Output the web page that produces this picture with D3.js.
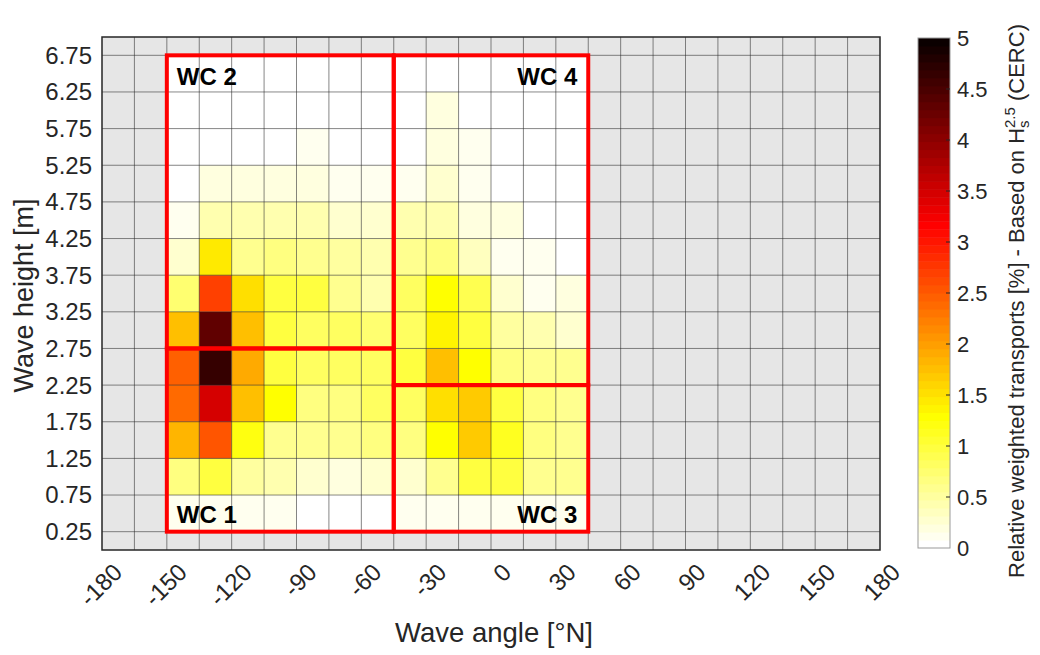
<!DOCTYPE html>
<html>
<head>
<meta charset="utf-8">
<script src="https://cdn.jsdelivr.net/npm/d3@7"></script>
<style>
  body { margin: 0; background: #fff; }
  text { font-family: "Liberation Sans", Arial, Helvetica, sans-serif; fill: #262626; }
</style>
</head>
<body>
<div id="chart"></div>
<script>

// wave angle bins (left edge, deg N) and wave height bins (lower edge, m)
var angles = [-150, -135, -120, -105, -90, -75, -60, -45, -30, -15, 0, 15, 30];
var heights = [0.25, 0.75, 1.25, 1.75, 2.25, 2.75, 3.25, 3.75, 4.25, 4.75, 5.25, 5.75, 6.25];

// relative weighted transport [%], one row per height bin (bottom -> top)
var transport = [
  [0.12, 0.12, 0.12, 0.10, 0,    0,    0,    0.12, 0.12, 0.14, 0.12, 0.10, 0.10],
  [0.70, 1.00, 0.47, 0.40, 0.25, 0.22, 0.30, 0.30, 0.55, 0.95, 0.95, 0.55, 0.55],
  [1.83, 2.54, 1.20, 0.60, 0.60, 0.60, 0.70, 0.70, 1.30, 1.67, 1.10, 0.70, 0.60],
  [2.40, 3.50, 1.72, 1.25, 0.70, 0.70, 0.80, 0.80, 1.55, 1.67, 1.00, 0.70, 0.60],
  [2.47, 4.65, 1.90, 0.95, 0.80, 0.80, 0.85, 0.95, 1.72, 1.25, 0.70, 0.55, 0.60],
  [1.77, 4.30, 1.77, 0.95, 0.80, 0.80, 0.72, 0.85, 1.36, 1.00, 0.47, 0.43, 0.26],
  [0.78, 2.70, 1.55, 0.95, 1.00, 0.60, 0.40, 0.80, 1.25, 0.90, 0.30, 0.12, 0.20],
  [0.25, 1.44, 0.55, 0.70, 0.55, 0.47, 0.40, 0.55, 0.70, 0.35, 0.12, 0.10, 0],
  [0.12, 0.40, 0.40, 0.40, 0.40, 0.30, 0.30, 0.40, 0.40, 0.20, 0.20, 0,    0],
  [0,    0.20, 0.20, 0.20, 0.20, 0.12, 0.12, 0.12, 0.27, 0.12, 0,    0,    0],
  [0,    0,    0,    0,    0.12, 0,    0,    0,    0.20, 0.12, 0,    0,    0],
  [0,    0,    0,    0,    0,    0,    0,    0,    0.20, 0,    0,    0,    0],
  [0,    0,    0,    0,    0,    0,    0,    0,    0,    0,    0,    0,    0]
];

// wave climate boxes [angle min, angle max, height min, height max]
var wcNames = ["WC 1", "WC 2", "WC 3", "WC 4"];
var wcBoxes = [[-150, -45, 0.25, 2.75], [-150, -45, 2.75, 6.75], [-45, 45, 0.25, 2.25], [-45, 45, 2.25, 6.75]];

var xTicks = d3.range(-180, 181, 30);
var yTicks = d3.range(0.25, 6.76, 0.5);
var cTicks = d3.range(0, 5.01, 0.5);

var binW = 15, binH = 0.5;

// plot box
var plotL = 102, plotR = 880, plotT = 37, plotB = 550;

var svg = d3.select("#chart").append("svg")
    .attr("width", 1040)
    .attr("height", 655);

var x = d3.scaleLinear().domain([-180, 180]).range([plotL, plotR]);
var y = d3.scaleLinear().domain([0, 7]).range([plotB, plotT]);

// flipped MATLAB "hot" colormap, 64 levels
function hotMap(m) {
  var n = Math.floor(3 / 8 * m), cols = [];
  for (var i = 1; i <= m; i++) {
    var r = i <= n ? i / n : 1;
    var g = i <= n ? 0 : (i <= 2 * n ? (i - n) / n : 1);
    var b = i <= 2 * n ? 0 : (i - 2 * n) / (m - 2 * n);
    cols.push(d3.rgb(r * 255, g * 255, b * 255).formatHex());
  }
  return cols.reverse();
}
var color = d3.scaleQuantize().domain([0, 5]).range(hotMap(64));

// background
svg.append("rect")
    .attr("x", plotL).attr("y", plotT)
    .attr("width", plotR - plotL).attr("height", plotB - plotT)
    .attr("fill", "#e6e6e6");

// cells
var cells = [];
transport.forEach(function(row, k) {
  row.forEach(function(v, j) {
    cells.push({a: angles[j], h: heights[k], v: v});
  });
});

svg.append("g")
  .selectAll("rect")
  .data(cells)
  .enter().append("rect")
    .attr("x", function(d) { return x(d.a); })
    .attr("y", function(d) { return y(d.h + binH); })
    .attr("width", function(d) { return x(d.a + binW) - x(d.a); })
    .attr("height", function(d) { return y(d.h) - y(d.h + binH); })
    .attr("fill", function(d) { return color(d.v); });

// grid
var grid = svg.append("g").attr("stroke", "#262626").attr("stroke-opacity", 0.55).attr("stroke-width", 1);
grid.selectAll(".gx")
  .data(d3.range(-165, 180, 15))
  .enter().append("line")
    .attr("x1", x).attr("x2", x)
    .attr("y1", plotT).attr("y2", plotB);
grid.selectAll(".gy")
  .data(yTicks)
  .enter().append("line")
    .attr("x1", plotL).attr("x2", plotR)
    .attr("y1", y).attr("y2", y);

// wave climate boxes
svg.append("g")
  .selectAll("rect")
  .data(wcBoxes)
  .enter().append("rect")
    .attr("x", function(d) { return x(d[0]); })
    .attr("y", function(d) { return y(d[3]); })
    .attr("width", function(d) { return x(d[1]) - x(d[0]); })
    .attr("height", function(d) { return y(d[2]) - y(d[3]); })
    .attr("fill", "none")
    .attr("stroke", "#ff0000")
    .attr("stroke-width", 4);

// box labels: left boxes left-aligned, right boxes right-aligned, bottom/top
svg.append("g")
  .selectAll("text")
  .data(wcBoxes)
  .enter().append("text")
    .attr("x", function(d, i) { return i < 2 ? x(d[0]) + 10 : x(d[1]) - 11; })
    .attr("y", function(d, i) { return i % 2 === 0 ? y(d[2]) - 9 : y(d[3]) + 30; })
    .attr("text-anchor", function(d, i) { return i < 2 ? "start" : "end"; })
    .style("font-size", "24px")
    .style("font-weight", "bold")
    .style("fill", "#000")
    .text(function(d, i) { return wcNames[i]; });

// axes border
svg.append("rect")
    .attr("x", plotL).attr("y", plotT)
    .attr("width", plotR - plotL).attr("height", plotB - plotT)
    .attr("fill", "none")
    .attr("stroke", "#262626")
    .attr("stroke-width", 1.5);

// y tick labels
svg.append("g")
  .selectAll("text")
  .data(yTicks)
  .enter().append("text")
    .attr("x", plotL - 10)
    .attr("y", y)
    .attr("dy", "0.35em")
    .attr("text-anchor", "end")
    .style("font-size", "24px")
    .text(d3.format(".2f"));

// x tick labels, rotated 45 deg
svg.append("g")
  .selectAll("text")
  .data(xTicks)
  .enter().append("text")
    .attr("transform", function(d) { return "translate(" + (x(d) + 9) + "," + (plotB + 11) + ") rotate(-45)"; })
    .attr("text-anchor", "end")
    .attr("dy", "0.75em")
    .style("font-size", "24px")
    .text(function(d) { return d; });

// axis titles
svg.append("text")
    .attr("x", (plotL + plotR) / 2 + 3)
    .attr("y", 642)
    .attr("text-anchor", "middle")
    .style("font-size", "27.5px")
    .text("Wave angle [\u00b0N]");

svg.append("text")
    .attr("transform", "translate(33," + ((plotT + plotB) / 2 + 2) + ") rotate(-90)")
    .attr("text-anchor", "middle")
    .style("font-size", "27px")
    .text("Wave height [m]");

// colorbar
var cbL = 918, cbR = 950, cbT = 38, cbB = 548;
var cy = d3.scaleLinear().domain([0, 5]).range([cbB, cbT]);
var levels = color.range();
var step = 5 / levels.length;

svg.append("g")
  .selectAll("rect")
  .data(levels)
  .enter().append("rect")
    .attr("x", cbL)
    .attr("y", function(d, i) { return cy((i + 1) * step); })
    .attr("width", cbR - cbL)
    .attr("height", function(d, i) { return cy(i * step) - cy((i + 1) * step) + 0.5; })
    .attr("fill", function(d) { return d; });

svg.append("rect")
    .attr("x", cbL).attr("y", cbT)
    .attr("width", cbR - cbL).attr("height", cbB - cbT)
    .attr("fill", "none")
    .attr("stroke", "#999")
    .attr("stroke-width", 1);

svg.append("g")
  .selectAll("line")
  .data(cTicks.slice(1, -1))
  .enter().append("line")
    .attr("x1", cbR - 4).attr("x2", cbR)
    .attr("y1", cy).attr("y2", cy)
    .attr("stroke", "#262626");

svg.append("g")
  .selectAll("text")
  .data(cTicks)
  .enter().append("text")
    .attr("x", cbR + 7)
    .attr("y", cy)
    .attr("dy", "0.35em")
    .style("font-size", "22px")
    .text(function(d) { return d3.format("~g")(d); });

// colorbar title with stacked super/subscript on H
var cbTitle = svg.append("text")
    .attr("transform", "translate(1024," + ((cbT + cbB) / 2 + 8) + ") rotate(-90)")
    .style("font-size", "22px");
cbTitle.append("tspan").text("Relative weighted transports [%] - Based on H");
var sup = cbTitle.append("tspan").attr("dy", -9).style("font-size", "15px").text("2.5");
var sub = cbTitle.append("tspan").attr("dy", 14).style("font-size", "15px").text("s");
var rest = cbTitle.append("tspan").attr("dy", -5).text(" (CERC)");
var supLen = sup.node().getComputedTextLength();
var subLen = sub.node().getComputedTextLength();
sub.attr("dx", -supLen);
rest.attr("dx", supLen - subLen);
var bb = cbTitle.node().getBBox();
cbTitle.attr("x", -bb.width / 2);

</script>
</body>
</html>
